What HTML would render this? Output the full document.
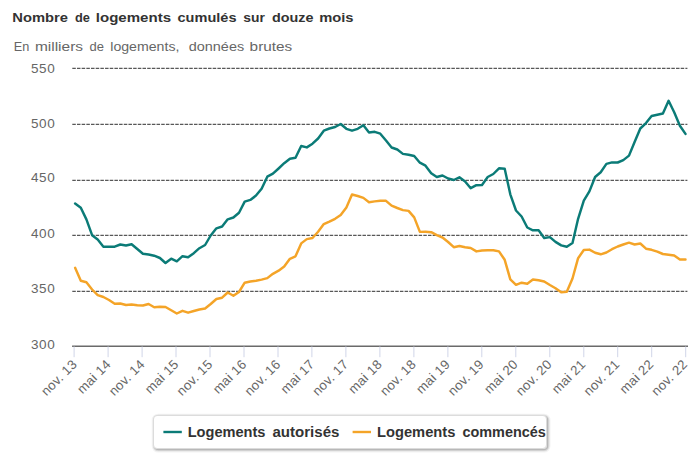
<!DOCTYPE html>
<html><head><meta charset="utf-8"><title>chart</title>
<style>
html,body{margin:0;padding:0;background:#fff;}
body{width:700px;height:467px;overflow:hidden;font-family:"Liberation Sans",sans-serif;}
svg{display:block;}
text{font-family:"Liberation Sans",sans-serif;}
</style></head><body>
<svg width="700" height="467" viewBox="0 0 700 467">
<rect width="700" height="467" fill="#ffffff"/>
<text x="12.32" y="22.3" font-size="13.7" font-weight="bold" fill="#333333" textLength="55.68" lengthAdjust="spacingAndGlyphs">Nombre</text>
<text x="75.06" y="22.3" font-size="13.7" font-weight="bold" fill="#333333" textLength="14.94" lengthAdjust="spacingAndGlyphs">de</text>
<text x="95.82" y="22.3" font-size="13.7" font-weight="bold" fill="#333333" textLength="75.24" lengthAdjust="spacingAndGlyphs">logements</text>
<text x="177.56" y="22.3" font-size="13.7" font-weight="bold" fill="#333333" textLength="58.94" lengthAdjust="spacingAndGlyphs">cumulés</text>
<text x="243.38" y="22.3" font-size="13.7" font-weight="bold" fill="#333333" textLength="21.56" lengthAdjust="spacingAndGlyphs">sur</text>
<text x="272.00" y="22.3" font-size="13.7" font-weight="bold" fill="#333333" textLength="41.50" lengthAdjust="spacingAndGlyphs">douze</text>
<text x="319.20" y="22.3" font-size="13.7" font-weight="bold" fill="#333333" textLength="34.36" lengthAdjust="spacingAndGlyphs">mois</text>
<text x="13.70" y="51.2" font-size="13.7" fill="#666666" textLength="15.54" lengthAdjust="spacingAndGlyphs">En</text>
<text x="34.94" y="51.2" font-size="13.7" fill="#666666" textLength="48.12" lengthAdjust="spacingAndGlyphs">milliers</text>
<text x="89.56" y="51.2" font-size="13.7" fill="#666666" textLength="14.44" lengthAdjust="spacingAndGlyphs">de</text>
<text x="110.26" y="51.2" font-size="13.7" fill="#666666" textLength="69.16" lengthAdjust="spacingAndGlyphs">logements,</text>
<text x="188.76" y="51.2" font-size="13.7" fill="#666666" textLength="55.42" lengthAdjust="spacingAndGlyphs">données</text>
<text x="249.64" y="51.2" font-size="13.7" fill="#666666" textLength="42.54" lengthAdjust="spacingAndGlyphs">brutes</text>
<path d="M72.3 68.4 H687.4" stroke="#585858" stroke-width="1.3" stroke-dasharray="3.5 1.18" fill="none"/>
<path d="M72.3 124.3 H687.4" stroke="#585858" stroke-width="1.3" stroke-dasharray="3.5 1.18" fill="none"/>
<path d="M72.3 180.3 H687.4" stroke="#585858" stroke-width="1.3" stroke-dasharray="3.5 1.18" fill="none"/>
<path d="M72.3 235.4 H687.4" stroke="#585858" stroke-width="1.3" stroke-dasharray="3.5 1.18" fill="none"/>
<path d="M72.3 291.4 H687.4" stroke="#585858" stroke-width="1.3" stroke-dasharray="3.5 1.18" fill="none"/>
<text x="55.5" y="72.5" font-size="13.5" fill="#666666" text-anchor="end" letter-spacing="0.7">550</text>
<text x="55.5" y="127.5" font-size="13.5" fill="#666666" text-anchor="end" letter-spacing="0.7">500</text>
<text x="55.5" y="182.3" font-size="13.5" fill="#666666" text-anchor="end" letter-spacing="0.7">450</text>
<text x="55.5" y="238.3" font-size="13.5" fill="#666666" text-anchor="end" letter-spacing="0.7">400</text>
<text x="55.5" y="292.8" font-size="13.5" fill="#666666" text-anchor="end" letter-spacing="0.7">350</text>
<text x="55.5" y="349.0" font-size="13.5" fill="#666666" text-anchor="end" letter-spacing="0.7">300</text>
<path d="M72.1 346.25 H688" stroke="#6a6a6a" stroke-width="1.4" fill="none"/>
<path d="M74.1 346.5 V357.2" stroke="#d0d5e8" stroke-width="1.0" fill="none"/>
<path d="M108.1 346.5 V357.2" stroke="#d0d5e8" stroke-width="1.0" fill="none"/>
<path d="M142.1 346.5 V357.2" stroke="#d0d5e8" stroke-width="1.0" fill="none"/>
<path d="M176.0 346.5 V357.2" stroke="#d0d5e8" stroke-width="1.0" fill="none"/>
<path d="M210.0 346.5 V357.2" stroke="#d0d5e8" stroke-width="1.0" fill="none"/>
<path d="M244.0 346.5 V357.2" stroke="#d0d5e8" stroke-width="1.0" fill="none"/>
<path d="M278.0 346.5 V357.2" stroke="#d0d5e8" stroke-width="1.0" fill="none"/>
<path d="M311.9 346.5 V357.2" stroke="#d0d5e8" stroke-width="1.0" fill="none"/>
<path d="M345.9 346.5 V357.2" stroke="#d0d5e8" stroke-width="1.0" fill="none"/>
<path d="M379.9 346.5 V357.2" stroke="#d0d5e8" stroke-width="1.0" fill="none"/>
<path d="M413.9 346.5 V357.2" stroke="#d0d5e8" stroke-width="1.0" fill="none"/>
<path d="M447.9 346.5 V357.2" stroke="#d0d5e8" stroke-width="1.0" fill="none"/>
<path d="M481.8 346.5 V357.2" stroke="#d0d5e8" stroke-width="1.0" fill="none"/>
<path d="M515.8 346.5 V357.2" stroke="#d0d5e8" stroke-width="1.0" fill="none"/>
<path d="M549.8 346.5 V357.2" stroke="#d0d5e8" stroke-width="1.0" fill="none"/>
<path d="M583.8 346.5 V357.2" stroke="#d0d5e8" stroke-width="1.0" fill="none"/>
<path d="M617.7 346.5 V357.2" stroke="#d0d5e8" stroke-width="1.0" fill="none"/>
<path d="M651.7 346.5 V357.2" stroke="#d0d5e8" stroke-width="1.0" fill="none"/>
<path d="M685.7 346.5 V357.2" stroke="#d0d5e8" stroke-width="1.0" fill="none"/>
<text transform="translate(77.8 365.2) rotate(-45)" font-size="13.2" fill="#666666" text-anchor="end" letter-spacing="0.3">nov. 13</text>
<text transform="translate(111.7 365.2) rotate(-45)" font-size="13.2" fill="#666666" text-anchor="end" letter-spacing="0.3">mai 14</text>
<text transform="translate(145.6 365.2) rotate(-45)" font-size="13.2" fill="#666666" text-anchor="end" letter-spacing="0.3">nov. 14</text>
<text transform="translate(179.5 365.2) rotate(-45)" font-size="13.2" fill="#666666" text-anchor="end" letter-spacing="0.3">mai 15</text>
<text transform="translate(213.4 365.2) rotate(-45)" font-size="13.2" fill="#666666" text-anchor="end" letter-spacing="0.3">nov. 15</text>
<text transform="translate(247.4 365.2) rotate(-45)" font-size="13.2" fill="#666666" text-anchor="end" letter-spacing="0.3">mai 16</text>
<text transform="translate(281.3 365.2) rotate(-45)" font-size="13.2" fill="#666666" text-anchor="end" letter-spacing="0.3">nov. 16</text>
<text transform="translate(315.2 365.2) rotate(-45)" font-size="13.2" fill="#666666" text-anchor="end" letter-spacing="0.3">mai 17</text>
<text transform="translate(349.1 365.2) rotate(-45)" font-size="13.2" fill="#666666" text-anchor="end" letter-spacing="0.3">nov. 17</text>
<text transform="translate(383.0 365.2) rotate(-45)" font-size="13.2" fill="#666666" text-anchor="end" letter-spacing="0.3">mai 18</text>
<text transform="translate(416.9 365.2) rotate(-45)" font-size="13.2" fill="#666666" text-anchor="end" letter-spacing="0.3">nov. 18</text>
<text transform="translate(450.8 365.2) rotate(-45)" font-size="13.2" fill="#666666" text-anchor="end" letter-spacing="0.3">mai 19</text>
<text transform="translate(484.7 365.2) rotate(-45)" font-size="13.2" fill="#666666" text-anchor="end" letter-spacing="0.3">nov. 19</text>
<text transform="translate(518.7 365.2) rotate(-45)" font-size="13.2" fill="#666666" text-anchor="end" letter-spacing="0.3">mai 20</text>
<text transform="translate(552.6 365.2) rotate(-45)" font-size="13.2" fill="#666666" text-anchor="end" letter-spacing="0.3">nov. 20</text>
<text transform="translate(586.5 365.2) rotate(-45)" font-size="13.2" fill="#666666" text-anchor="end" letter-spacing="0.3">mai 21</text>
<text transform="translate(620.4 365.2) rotate(-45)" font-size="13.2" fill="#666666" text-anchor="end" letter-spacing="0.3">nov. 21</text>
<text transform="translate(654.3 365.2) rotate(-45)" font-size="13.2" fill="#666666" text-anchor="end" letter-spacing="0.3">mai 22</text>
<text transform="translate(688.2 365.2) rotate(-45)" font-size="13.2" fill="#666666" text-anchor="end" letter-spacing="0.3">nov. 22</text>
<path d="M75.1 203.5 L80.8 207.8 L86.4 219.4 L92.1 235.2 L97.7 239.5 L103.4 246.7 L109.0 246.7 L114.7 246.7 L120.3 244.5 L126.0 245.5 L131.6 244.2 L137.3 249.0 L142.9 253.8 L148.6 254.5 L154.2 255.7 L159.9 258.0 L165.5 263.0 L171.2 258.7 L176.8 261.3 L182.5 256.2 L188.1 257.2 L193.8 253.2 L199.4 248.2 L205.1 245.0 L210.7 235.5 L216.4 228.3 L222.1 226.5 L227.7 219.3 L233.4 217.5 L239.0 212.7 L244.7 201.6 L250.3 199.9 L256.0 195.6 L261.6 188.7 L267.3 176.7 L272.9 173.7 L278.6 168.5 L284.2 163.2 L289.9 158.7 L295.5 157.7 L301.2 146.0 L306.8 147.4 L312.5 143.7 L318.1 138.5 L323.8 130.7 L329.4 128.5 L335.1 127.0 L340.7 124.0 L346.4 128.8 L352.0 130.7 L357.7 128.8 L363.4 125.2 L369.0 132.5 L374.7 131.8 L380.3 133.7 L386.0 140.5 L391.6 147.5 L397.3 149.5 L402.9 153.9 L408.6 154.8 L414.2 156.0 L419.9 162.7 L425.5 165.7 L431.2 173.2 L436.8 177.0 L442.5 175.5 L448.1 178.5 L453.8 180.0 L459.4 177.3 L465.1 181.5 L470.7 188.2 L476.4 185.2 L482.0 185.0 L487.7 177.0 L493.3 174.0 L499.0 168.3 L504.7 168.7 L510.3 194.3 L516.0 210.5 L521.6 216.5 L527.3 227.5 L532.9 230.3 L538.6 230.3 L544.2 238.0 L549.9 237.1 L555.5 241.9 L561.2 245.4 L566.8 246.7 L572.5 243.0 L578.1 218.8 L583.8 200.6 L589.4 191.4 L595.1 177.0 L600.7 172.2 L606.4 163.9 L612.0 162.4 L617.7 162.5 L623.3 160.1 L629.0 155.6 L634.6 142.0 L640.3 128.5 L646.0 123.1 L651.6 116.0 L657.3 114.7 L662.9 113.5 L668.6 100.8 L674.2 112.2 L679.9 125.7 L685.5 133.9" stroke="#0b7b77" stroke-width="2.45" fill="none" stroke-linejoin="round" stroke-linecap="round"/>
<path d="M75.1 267.8 L80.8 280.8 L86.4 282.3 L92.1 289.5 L97.7 295.2 L103.4 297.0 L109.0 300.0 L114.7 303.7 L120.3 303.5 L126.0 305.0 L131.6 304.5 L137.3 305.2 L142.9 305.5 L148.6 304.0 L154.2 307.2 L159.9 306.7 L165.5 307.0 L171.2 310.3 L176.8 313.5 L182.5 310.8 L188.1 312.7 L193.8 311.0 L199.4 309.5 L205.1 308.5 L210.7 304.0 L216.4 299.0 L222.1 297.7 L227.7 292.5 L233.4 295.8 L239.0 292.0 L244.7 282.7 L250.3 281.5 L256.0 280.7 L261.6 279.6 L267.3 278.1 L272.9 273.8 L278.6 270.7 L284.2 266.5 L289.9 258.8 L295.5 256.3 L301.2 243.4 L306.8 239.1 L312.5 238.0 L318.1 231.8 L323.8 224.1 L329.4 221.6 L335.1 218.8 L340.7 215.1 L346.4 207.6 L352.0 194.5 L357.7 196.0 L363.4 197.9 L369.0 202.2 L374.7 201.4 L380.3 200.8 L386.0 200.8 L391.6 205.7 L397.3 208.0 L402.9 210.1 L408.6 210.9 L414.2 217.4 L419.9 231.9 L425.5 231.8 L431.2 232.2 L436.8 235.2 L442.5 237.5 L448.1 242.0 L453.8 247.2 L459.4 246.0 L465.1 247.2 L470.7 248.0 L476.4 251.4 L482.0 250.5 L487.7 250.2 L493.3 250.2 L499.0 251.4 L504.7 259.8 L510.3 279.3 L516.0 284.8 L521.6 282.7 L527.3 283.7 L532.9 279.5 L538.6 280.3 L544.2 281.5 L549.9 285.0 L555.5 288.2 L561.2 292.3 L566.8 291.7 L572.5 278.5 L578.1 258.2 L583.8 250.0 L589.4 249.6 L595.1 252.8 L600.7 254.3 L606.4 252.5 L612.0 249.2 L617.7 246.5 L623.3 244.5 L629.0 242.7 L634.6 244.5 L640.3 243.5 L646.0 248.7 L651.6 249.8 L657.3 251.7 L662.9 254.0 L668.6 254.7 L674.2 255.5 L679.9 259.5 L685.5 259.5" stroke="#f4a428" stroke-width="2.45" fill="none" stroke-linejoin="round" stroke-linecap="round"/>
<rect x="154.6" y="416.6" width="393" height="33" rx="3.5" fill="none" stroke="#000" stroke-opacity="0.05" stroke-width="5.8"/>
<rect x="154.6" y="416.6" width="393" height="33" rx="3.5" fill="none" stroke="#000" stroke-opacity="0.10" stroke-width="3.5"/>
<rect x="154.6" y="416.6" width="393" height="33" rx="3.5" fill="none" stroke="#000" stroke-opacity="0.15" stroke-width="1.2"/>
<rect x="153.5" y="415.5" width="393" height="33" rx="3.5" fill="#ffffff" stroke="#dcdcdc" stroke-width="1"/>
<path d="M163.4 432 H181.8" stroke="#0b7b77" stroke-width="2.4" fill="none"/>
<text x="187.70" y="436.9" font-size="14.3" font-weight="bold" fill="#333333" textLength="77.80" lengthAdjust="spacingAndGlyphs">Logements</text>
<text x="272.46" y="436.9" font-size="14.3" font-weight="bold" fill="#333333" textLength="66.96" lengthAdjust="spacingAndGlyphs">autorisés</text>
<path d="M352.6 432 H371" stroke="#f4a428" stroke-width="2.4" fill="none"/>
<text x="377.04" y="436.9" font-size="14.3" font-weight="bold" fill="#333333" textLength="78.34" lengthAdjust="spacingAndGlyphs">Logements</text>
<text x="462.42" y="436.9" font-size="14.3" font-weight="bold" fill="#333333" textLength="83.50" lengthAdjust="spacingAndGlyphs">commencés</text>
</svg>
</body></html>
